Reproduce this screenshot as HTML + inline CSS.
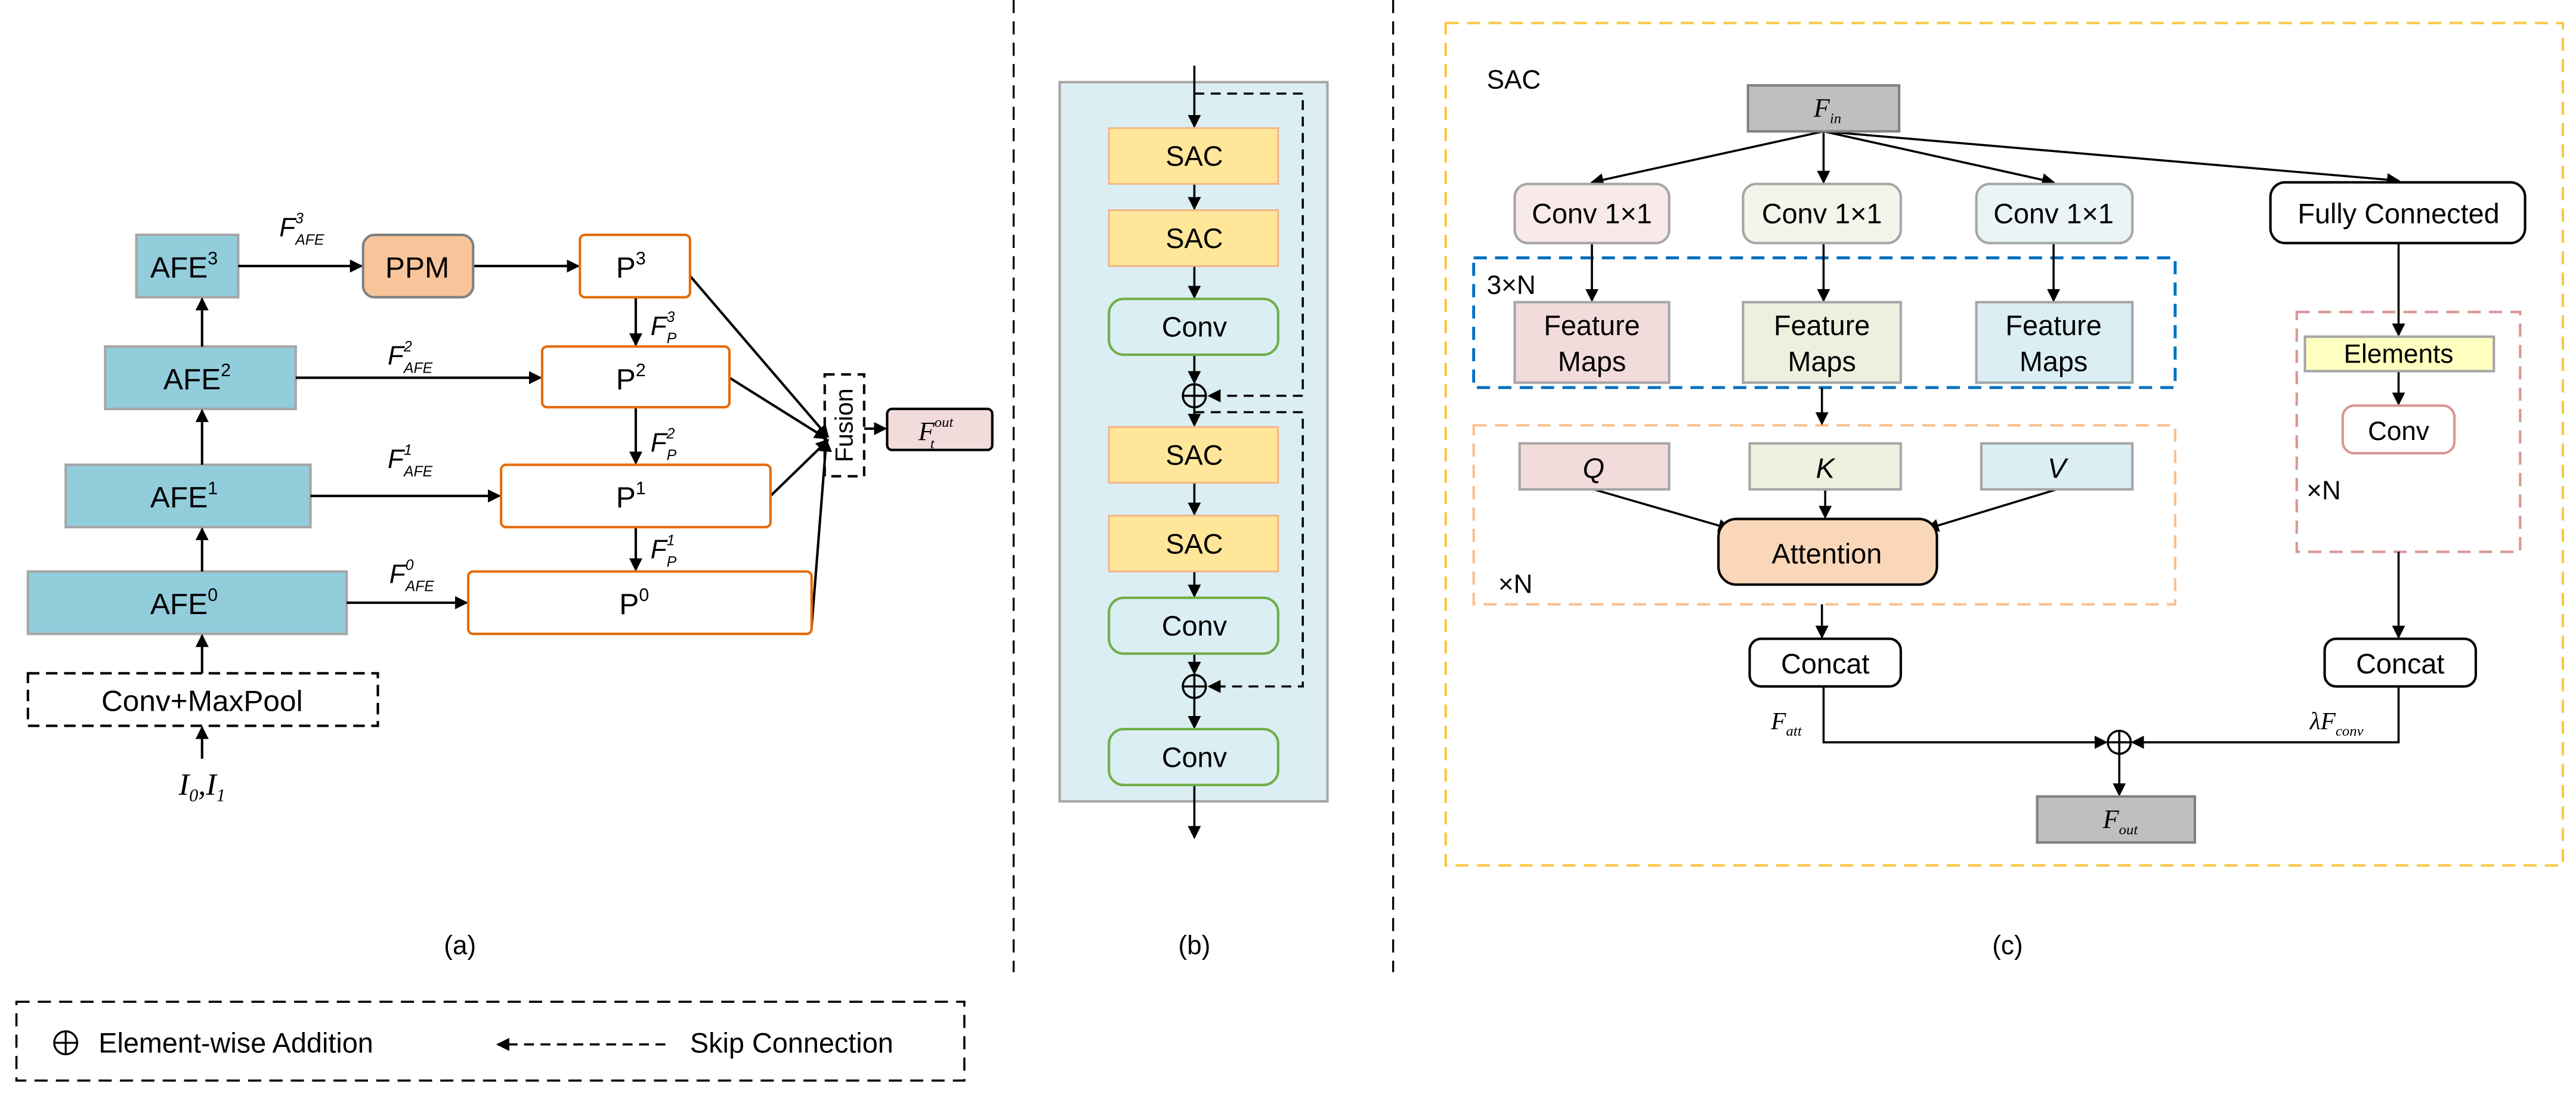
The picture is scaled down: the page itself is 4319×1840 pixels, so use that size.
<!DOCTYPE html>
<html><head><meta charset="utf-8"><style>
html,body{margin:0;padding:0;background:#fff}
svg{display:block}
text{font-family:"Liberation Sans",sans-serif;fill:#000}
.m{font-family:"Liberation Serif",serif;font-style:italic}
</style></head><body>
<svg width="4319" height="1840" viewBox="0 0 1568 668" xmlns="http://www.w3.org/2000/svg">
<defs>
<marker id="a" markerWidth="8" markerHeight="8" refX="7" refY="4" orient="auto" markerUnits="userSpaceOnUse"><path d="M0,0 L8,4 L0,8 z" fill="#000"/></marker>
</defs>
<rect width="1568" height="668" fill="#fff"/>
<!-- dividers -->
<line x1="617" y1="0" x2="617" y2="592" stroke="#000" stroke-width="1.2" stroke-dasharray="8,5"/>
<line x1="848" y1="0" x2="848" y2="592" stroke="#000" stroke-width="1.2" stroke-dasharray="8,5"/>

<!-- ===== (a) ===== -->
<g stroke="#a6a6a6" stroke-width="1.5" fill="#92CDDC">
<rect x="83" y="143" width="62" height="38"/>
<rect x="64" y="211" width="116" height="38"/>
<rect x="40" y="283" width="149" height="38"/>
<rect x="17" y="348" width="194" height="38"/>
</g>
<g font-size="18" text-anchor="middle">
<text x="112" y="169">AFE<tspan font-size="11" dy="-8">3</tspan></text>
<text x="120" y="237">AFE<tspan font-size="11" dy="-8">2</tspan></text>
<text x="112" y="309">AFE<tspan font-size="11" dy="-8">1</tspan></text>
<text x="112" y="374">AFE<tspan font-size="11" dy="-8">0</tspan></text>
</g>
<rect x="17" y="410" width="213" height="32" fill="none" stroke="#000" stroke-width="1.5" stroke-dasharray="7,4"/>
<text x="123" y="433" font-size="18" text-anchor="middle">Conv+MaxPool</text>
<text x="123" y="484" font-size="19" text-anchor="middle" class="m">I<tspan font-size="11" dy="4">0</tspan><tspan dy="-4">,I</tspan><tspan font-size="11" dy="4">1</tspan></text>
<g stroke="#000" stroke-width="1.5" marker-end="url(#a)">
<line x1="123" y1="462" x2="123" y2="443"/>
<line x1="123" y1="410" x2="123" y2="387"/>
<line x1="123" y1="348" x2="123" y2="322"/>
<line x1="123" y1="283" x2="123" y2="250"/>
<line x1="123" y1="211" x2="123" y2="182"/>
<line x1="145" y1="162" x2="220" y2="162"/>
<line x1="288" y1="162" x2="352" y2="162"/>
<line x1="180" y1="230" x2="329" y2="230"/>
<line x1="189" y1="302" x2="304" y2="302"/>
<line x1="211" y1="367" x2="284" y2="367"/>
<line x1="387" y1="181" x2="387" y2="210"/>
<line x1="387" y1="248" x2="387" y2="282"/>
<line x1="387" y1="321" x2="387" y2="347"/>
<line x1="420" y1="168" x2="504" y2="266"/>
<line x1="444" y1="230" x2="503" y2="267"/>
<line x1="469" y1="302" x2="504" y2="268"/>
<line x1="494" y1="382" x2="503" y2="268"/>
<line x1="526" y1="261" x2="539" y2="261"/>
</g>
<rect x="221" y="143" width="67" height="38" rx="7" fill="#F8C59B" stroke="#7f7f7f" stroke-width="1.5"/>
<text x="254" y="169" font-size="18" text-anchor="middle">PPM</text>
<g fill="#fff" stroke="#E46C0A" stroke-width="1.5">
<rect x="353" y="143" width="67" height="38" rx="3"/>
<rect x="330" y="211" width="114" height="37" rx="3"/>
<rect x="305" y="283" width="164" height="38" rx="3"/>
<rect x="285" y="348" width="209" height="38" rx="3"/>
</g>
<g font-size="18" text-anchor="middle">
<text x="384" y="169">P<tspan font-size="11" dy="-8">3</tspan></text>
<text x="384" y="237">P<tspan font-size="11" dy="-8">2</tspan></text>
<text x="384" y="309">P<tspan font-size="11" dy="-8">1</tspan></text>
<text x="386" y="374">P<tspan font-size="11" dy="-8">0</tspan></text>
</g>
<g class="m" font-size="16">
<text x="170" y="144">F<tspan font-size="9" dy="-8">3</tspan><tspan font-size="9" dx="-5" dy="13">AFE</tspan></text>
<text x="236" y="222">F<tspan font-size="9" dy="-8">2</tspan><tspan font-size="9" dx="-5" dy="13">AFE</tspan></text>
<text x="236" y="285">F<tspan font-size="9" dy="-8">1</tspan><tspan font-size="9" dx="-5" dy="13">AFE</tspan></text>
<text x="237" y="355">F<tspan font-size="9" dy="-8">0</tspan><tspan font-size="9" dx="-5" dy="13">AFE</tspan></text>
<text x="396" y="204">F<tspan font-size="9" dy="-8">3</tspan><tspan font-size="9" dx="-5" dy="13">P</tspan></text>
<text x="396" y="275">F<tspan font-size="9" dy="-8">2</tspan><tspan font-size="9" dx="-5" dy="13">P</tspan></text>
<text x="396" y="340">F<tspan font-size="9" dy="-8">1</tspan><tspan font-size="9" dx="-5" dy="13">P</tspan></text>
</g>
<rect x="502" y="228" width="24" height="62" fill="none" stroke="#000" stroke-width="1.5" stroke-dasharray="6,4"/>
<text x="0" y="0" font-size="15" text-anchor="middle" transform="translate(519,259) rotate(-90)">Fusion</text>
<rect x="540" y="249" width="64" height="25" rx="3" fill="#F2DCDB" stroke="#000" stroke-width="1.5"/>
<text x="559" y="268" font-size="16" class="m">F<tspan font-size="9" dy="-8">out</tspan><tspan font-size="9" dx="-14" dy="13">t</tspan></text>
<text x="280" y="581" font-size="16" text-anchor="middle">(a)</text>

<!-- ===== (b) ===== -->
<text x="645" y="64" font-size="15">AFE</text>
<rect x="645" y="50" width="163" height="438" fill="#DAEEF3" stroke="#a6a6a6" stroke-width="1.5"/>
<g stroke="#000" stroke-width="1.3" marker-end="url(#a)">
<line x1="727" y1="40" x2="727" y2="77"/>
<line x1="727" y1="112" x2="727" y2="127"/>
<line x1="727" y1="162" x2="727" y2="181"/>
<line x1="727" y1="216" x2="727" y2="233"/>
<line x1="727" y1="248" x2="727" y2="259"/>
<line x1="727" y1="294" x2="727" y2="313"/>
<line x1="727" y1="348" x2="727" y2="363"/>
<line x1="727" y1="398" x2="727" y2="410"/>
<line x1="727" y1="425" x2="727" y2="443"/>
<line x1="727" y1="478" x2="727" y2="510"/>
</g>
<g stroke="#000" stroke-width="1.3" fill="none" stroke-dasharray="6,4">
<polyline points="727,57 793,57 793,241 736,241" marker-end="url(#a)"/>
<polyline points="727,251 793,251 793,418 736,418" marker-end="url(#a)"/>
</g>
<g fill="#FFE699" stroke="#F4B183" stroke-width="1">
<rect x="675" y="78" width="103" height="34"/>
<rect x="675" y="128" width="103" height="34"/>
<rect x="675" y="260" width="103" height="34"/>
<rect x="675" y="314" width="103" height="34"/>
</g>
<g fill="#DAEEF3" stroke="#70AD47" stroke-width="1.5">
<rect x="675" y="182" width="103" height="34" rx="9"/>
<rect x="675" y="364" width="103" height="34" rx="9"/>
<rect x="675" y="444" width="103" height="34" rx="9"/>
</g>
<g font-size="17" text-anchor="middle">
<text x="727" y="101">SAC</text><text x="727" y="151">SAC</text>
<text x="727" y="205">Conv</text>
<text x="727" y="283">SAC</text><text x="727" y="337">SAC</text>
<text x="727" y="387">Conv</text><text x="727" y="467">Conv</text>
</g>
<g fill="#DAEEF3" stroke="#000" stroke-width="1.3">
<circle cx="727" cy="241" r="7"/><line x1="720" y1="241" x2="734" y2="241"/><line x1="727" y1="234" x2="727" y2="248"/>
<circle cx="727" cy="418" r="7"/><line x1="720" y1="418" x2="734" y2="418"/><line x1="727" y1="411" x2="727" y2="425"/>
</g>
<text x="727" y="581" font-size="16" text-anchor="middle">(b)</text>

<!-- ===== (c) ===== -->
<rect x="880" y="14" width="680" height="513" fill="none" stroke="#F9C846" stroke-width="1.5" stroke-dasharray="8,5"/>
<text x="905" y="54" font-size="16">SAC</text>
<rect x="897" y="157" width="427" height="79" fill="none" stroke="#0070C0" stroke-width="1.8" stroke-dasharray="8,5"/>
<rect x="897" y="259" width="427" height="109" fill="none" stroke="#FAC090" stroke-width="1.5" stroke-dasharray="8,5"/>
<rect x="1398" y="190" width="136" height="146" fill="none" stroke="#D99694" stroke-width="1.5" stroke-dasharray="8,5"/>
<g stroke="#000" stroke-width="1.3" marker-end="url(#a)">
<line x1="1110" y1="80" x2="969" y2="111"/>
<line x1="1110" y1="80" x2="1110" y2="111"/>
<line x1="1110" y1="80" x2="1250" y2="111"/>
<line x1="1110" y1="80" x2="1460" y2="110"/>
<line x1="969" y1="148" x2="969" y2="183"/>
<line x1="1110" y1="148" x2="1110" y2="183"/>
<line x1="1250" y1="148" x2="1250" y2="183"/>
<line x1="1460" y1="148" x2="1460" y2="204"/>
<line x1="1460" y1="226" x2="1460" y2="246"/>
<line x1="1460" y1="336" x2="1460" y2="388"/>
<line x1="1109" y1="236" x2="1109" y2="258"/>
<line x1="1109" y1="368" x2="1109" y2="388"/>
<line x1="970" y1="298" x2="1053" y2="322"/>
<line x1="1111" y1="298" x2="1111" y2="315"/>
<line x1="1252" y1="298" x2="1173" y2="322"/>
<line x1="1290" y1="459" x2="1290" y2="484"/>
<polyline points="1110,418 1110,452 1282,452" fill="none"/>
<polyline points="1460,418 1460,452 1298,452" fill="none"/>
</g>
<rect x="1064" y="52" width="92" height="28" fill="#BFBFBF" stroke="#808080" stroke-width="1.5"/>
<text x="1104" y="71" font-size="16" class="m">F<tspan font-size="9" dy="4">in</tspan></text>
<rect x="922" y="112" width="94" height="36" rx="8" fill="#F9EAEA" stroke="#a6a6a6" stroke-width="1.5"/>
<rect x="1061" y="112" width="96" height="36" rx="8" fill="#F1F5EA" stroke="#a6a6a6" stroke-width="1.5"/>
<rect x="1203" y="112" width="95" height="36" rx="8" fill="#EAF4F7" stroke="#a6a6a6" stroke-width="1.5"/>
<rect x="1382" y="111" width="155" height="37" rx="9" fill="#fff" stroke="#000" stroke-width="1.5"/>
<g font-size="17" text-anchor="middle">
<text x="969" y="136">Conv 1×1</text><text x="1109" y="136">Conv 1×1</text><text x="1250" y="136">Conv 1×1</text>
<text x="1460" y="136">Fully Connected</text>
</g>
<text x="905" y="179" font-size="16">3×N</text>
<rect x="922" y="184" width="94" height="49" fill="#F2DCDB" stroke="#a6a6a6" stroke-width="1.5"/>
<rect x="1061" y="184" width="96" height="49" fill="#EBF1DE" stroke="#a6a6a6" stroke-width="1.5"/>
<rect x="1203" y="184" width="95" height="49" fill="#DAEEF3" stroke="#a6a6a6" stroke-width="1.5"/>
<g font-size="17" text-anchor="middle">
<text x="969" y="204">Feature</text><text x="969" y="226">Maps</text>
<text x="1109" y="204">Feature</text><text x="1109" y="226">Maps</text>
<text x="1250" y="204">Feature</text><text x="1250" y="226">Maps</text>
</g>
<rect x="925" y="270" width="91" height="28" fill="#F2DCDB" stroke="#a6a6a6" stroke-width="1.5"/>
<rect x="1065" y="270" width="92" height="28" fill="#EBF1DE" stroke="#a6a6a6" stroke-width="1.5"/>
<rect x="1206" y="270" width="92" height="28" fill="#DAEEF3" stroke="#a6a6a6" stroke-width="1.5"/>
<g font-size="17" text-anchor="middle" font-style="italic">
<text x="970" y="291">Q</text><text x="1111" y="291">K</text><text x="1252" y="291">V</text>
</g>
<rect x="1046" y="316" width="133" height="40" rx="11" fill="#FAD7B8" stroke="#000" stroke-width="1.5"/>
<text x="1112" y="343" font-size="17" text-anchor="middle">Attention</text>
<text x="912" y="361" font-size="16">×N</text>
<rect x="1403" y="205" width="115" height="21" fill="#FFFFC0" stroke="#a6a6a6" stroke-width="1.5"/>
<text x="1460" y="221" font-size="16" text-anchor="middle">Elements</text>
<rect x="1426" y="247" width="68" height="29" rx="7" fill="#fff" stroke="#D99694" stroke-width="1.5"/>
<text x="1460" y="268" font-size="16" text-anchor="middle">Conv</text>
<text x="1404" y="304" font-size="16">×N</text>
<rect x="1065" y="389" width="92" height="29" rx="7" fill="#fff" stroke="#000" stroke-width="1.5"/>
<rect x="1415" y="389" width="92" height="29" rx="7" fill="#fff" stroke="#000" stroke-width="1.5"/>
<text x="1111" y="410" font-size="17" text-anchor="middle">Concat</text>
<text x="1461" y="410" font-size="17" text-anchor="middle">Concat</text>
<text x="1078" y="444" font-size="15" class="m">F<tspan font-size="9" dy="4">att</tspan></text>
<text x="1406" y="444" font-size="15" class="m">λF<tspan font-size="9" dy="4">conv</tspan></text>
<g fill="#fff" stroke="#000" stroke-width="1.3">
<circle cx="1290" cy="452" r="7"/><line x1="1283" y1="452" x2="1297" y2="452"/><line x1="1290" y1="445" x2="1290" y2="459"/>
</g>
<rect x="1240" y="485" width="96" height="28" fill="#BFBFBF" stroke="#808080" stroke-width="1.5"/>
<text x="1280" y="504" font-size="16" class="m">F<tspan font-size="9" dy="4">out</tspan></text>
<text x="1222" y="581" font-size="16" text-anchor="middle">(c)</text>

<!-- legend -->
<rect x="10" y="610" width="577" height="48" fill="none" stroke="#000" stroke-width="1.3" stroke-dasharray="8,5"/>
<g fill="none" stroke="#000" stroke-width="1.2">
<circle cx="40" cy="635" r="7"/><line x1="33" y1="635" x2="47" y2="635"/><line x1="40" y1="628" x2="40" y2="642"/>
</g>
<text x="60" y="641" font-size="17">Element-wise Addition</text>
<line x1="405" y1="636" x2="303" y2="636" stroke="#000" stroke-width="1.3" stroke-dasharray="6,4" marker-end="url(#a)"/>
<text x="420" y="641" font-size="17">Skip Connection</text>
</svg>
</body></html>
